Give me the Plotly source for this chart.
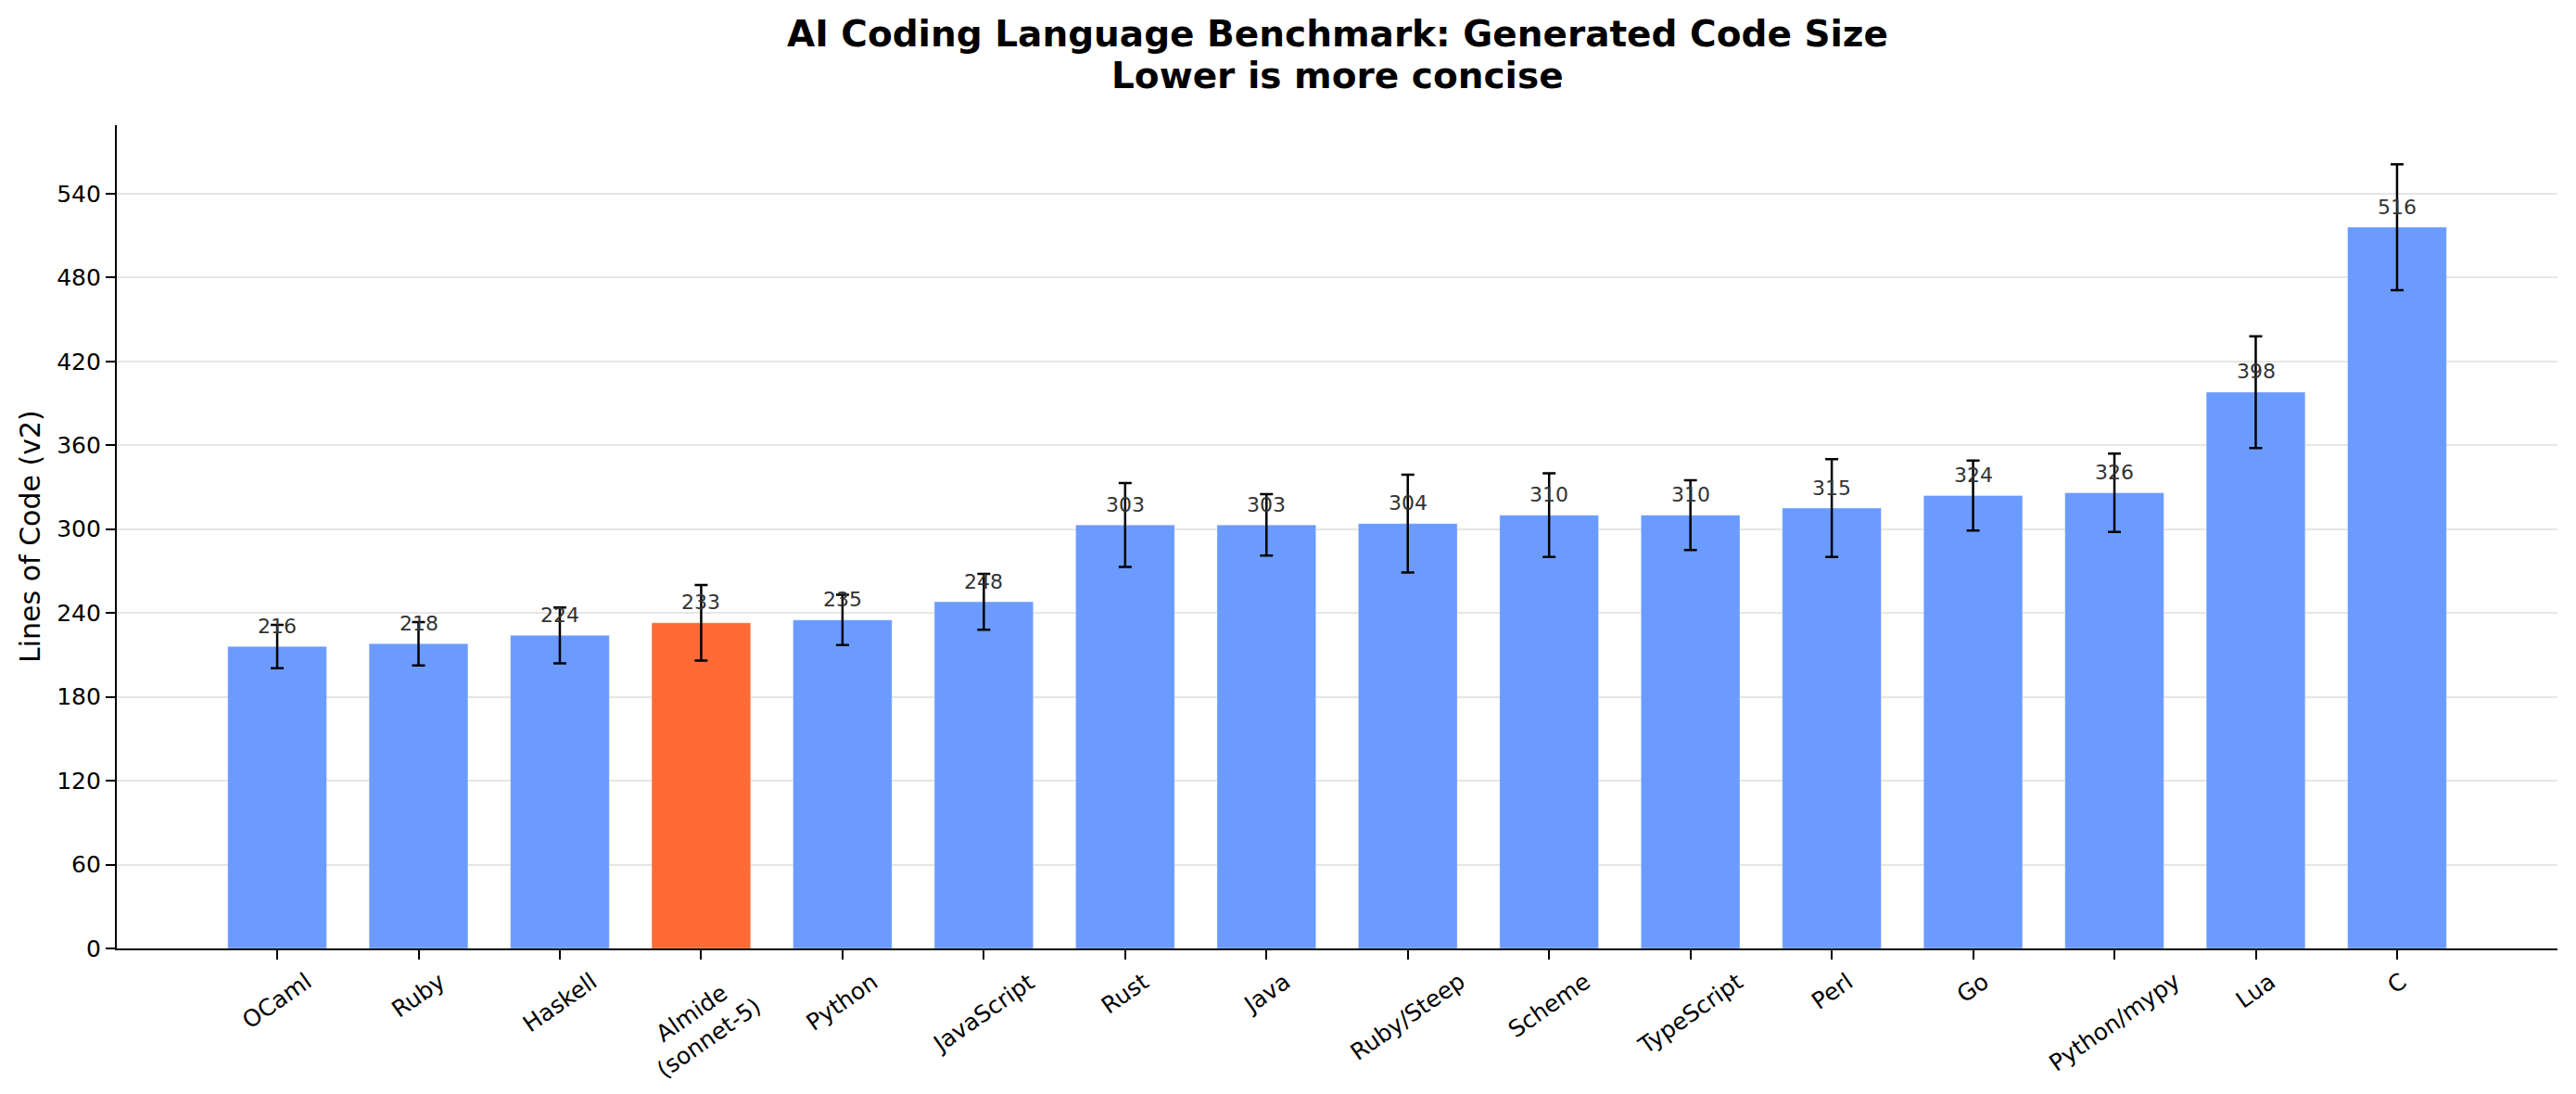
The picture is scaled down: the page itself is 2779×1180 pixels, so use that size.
import plotly.graph_objects as go

languages = ["OCaml", "Ruby", "Haskell", "Almide (sonnet-5)", "Python", "JavaScript",
             "Rust", "Java", "Ruby/Steep", "Scheme", "TypeScript", "Perl", "Go",
             "Python/mypy", "Lua", "C"]
tick_labels = ["OCaml", "Ruby", "Haskell", "Almide<br>(sonnet-5)", "Python", "JavaScript",
               "Rust", "Java", "Ruby/Steep", "Scheme", "TypeScript", "Perl", "Go",
               "Python/mypy", "Lua", "C"]
loc_values = [216, 218, 224, 233, 235, 248, 303, 303, 304, 310, 310, 315, 324, 326, 398, 516]
loc_errors = [15.5, 15.5, 20, 27, 18, 20, 30, 22, 35, 30, 25, 35, 25, 28, 40, 45]
highlight = "Almide (sonnet-5)"
y_ticks = [0, 60, 120, 180, 240, 300, 360, 420, 480, 540]

BLUE = "#6c9bff"
ORANGE = "#ff6b35"
FONT = "DejaVu Sans"

colors = [ORANGE if l == highlight else BLUE for l in languages]

fig = go.Figure()
fig.add_trace(go.Bar(
    x=languages, y=loc_values, width=0.7,
    marker=dict(color=colors, line=dict(color="rgba(255,255,255,0.35)", width=1)),
    error_y=dict(type="data", array=loc_errors, visible=True,
                 color="black", thickness=2.5, width=7),
    hoverinfo="x+y",
))

annotations = []
# value labels
for l, v in zip(languages, loc_values):
    annotations.append(dict(x=l, y=v + 5, xref="x", yref="y", text=str(v),
                            showarrow=False, yanchor="bottom", xanchor="center",
                            font=dict(family=FONT, size=22, color="#333333")))
# rotated tick labels
for l, t in zip(languages, tick_labels):
    annotations.append(dict(x=l, y=0, xref="x", yref="paper", text=t,
                            showarrow=False, yanchor="top", xanchor="center",
                            textangle=-35, yshift=-18, align="center",
                            font=dict(family=FONT, size=25, color="black")))
# title lines
annotations.append(dict(x=0.5, y=1.1104, xref="paper", yref="paper",
                        text="<b>AI Coding Language Benchmark: Generated Code Size</b>",
                        showarrow=False, xanchor="center", yanchor="middle",
                        font=dict(family=FONT, size=39, color="black")))
annotations.append(dict(x=0.5, y=1.0608, xref="paper", yref="paper",
                        text="<b>Lower is more concise</b>",
                        showarrow=False, xanchor="center", yanchor="middle",
                        font=dict(family=FONT, size=39, color="black")))
# y axis label
annotations.append(dict(x=-0.0357, y=0.5, xref="paper", yref="paper",
                        text="Lines of Code (v2)", textangle=-90,
                        showarrow=False, xanchor="center", yanchor="middle",
                        font=dict(family=FONT, size=30, color="black")))

fig.update_layout(
    width=2779, height=1180,
    margin=dict(l=126, r=20, t=135, b=157),
    paper_bgcolor="white", plot_bgcolor="white",
    showlegend=False,
    font=dict(family=FONT, size=25, color="black"),
    annotations=annotations,
    bargap=0.3,
)
fig.update_xaxes(
    type="category", categoryorder="array", categoryarray=languages,
    range=[-1.135, len(languages) - 1 + 1.135],
    showticklabels=False, ticks="outside", ticklen=10, tickwidth=2, tickcolor="black",
    showline=True, linewidth=2.2, linecolor="black", showgrid=False, zeroline=False,
)
fig.update_yaxes(
    range=[0, 589], tickvals=y_ticks, ticktext=[str(v) for v in y_ticks],
    ticks="outside", ticklen=10, tickwidth=2, tickcolor="black",
    tickfont=dict(family=FONT, size=25, color="black"),
    showline=True, linewidth=2.2, linecolor="black",
    showgrid=True, gridcolor="#e6e6e6", gridwidth=2, zeroline=False,
)

fig.write_html("out.html")
